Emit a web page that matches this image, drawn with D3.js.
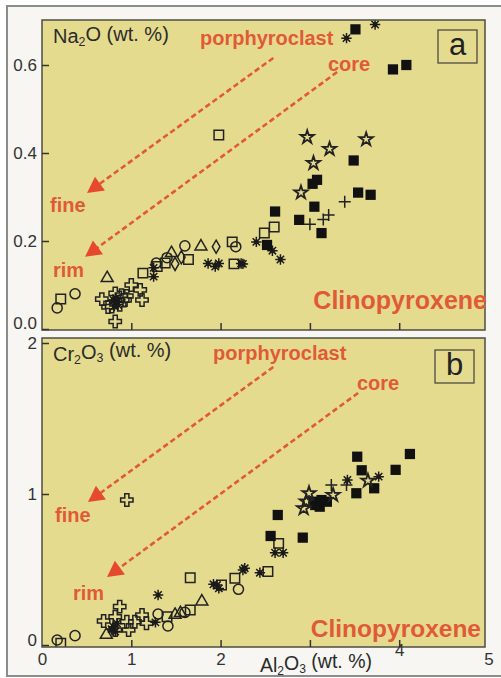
<!DOCTYPE html>
<html><head><meta charset="utf-8">
<script src="https://cdn.jsdelivr.net/npm/d3@7"></script>
<style>
html,body{margin:0;padding:0;background:#fff;}
svg{display:block;font-family:"Liberation Sans",Arial,sans-serif;}
</style></head><body>
<svg id="fig" width="501" height="678"></svg>
<script>
// ---- Clinopyroxene analyses: [Al2O3, oxide] in wt.% ----
// Panel a: Na2O vs Al2O3
const naCircle   = [[0.17,0.048],[0.37,0.080],[1.28,0.150],[1.40,0.162],[1.60,0.189],[2.17,0.187]];
const naSquare   = [[0.21,0.068],[1.13,0.127],[1.29,0.142],[1.38,0.150],[1.64,0.158],[2.13,0.198],[2.15,0.148],[2.49,0.218],[2.60,0.232],[1.98,0.441]];
const naTriangle = [[0.73,0.119],[1.45,0.176],[1.78,0.191]];
const naDiamond  = [[1.49,0.148],[1.56,0.163],[1.95,0.187]];
const naCross    = [[0.67,0.068],[0.82,0.081],[0.78,0.051],[0.87,0.055],[0.95,0.075],[1.00,0.100],[1.10,0.089],[1.12,0.066],[0.82,0.017],[0.93,0.066],[0.74,0.050],[0.89,0.077]];
const naAsterisk = [[0.80,0.066],[0.84,0.061],[0.85,0.055],[0.81,0.052],[0.83,0.070],[1.25,0.119],[1.25,0.139],[1.86,0.149],[1.94,0.142],[1.98,0.149],[2.23,0.149],[2.25,0.148],[2.40,0.198],[2.58,0.178],[2.67,0.158],[3.41,0.661],[3.73,0.692]];
const naFilled   = [[2.52,0.191],[2.61,0.267],[2.88,0.248],[3.05,0.278],[3.08,0.339],[3.03,0.330],[3.13,0.218],[3.49,0.383],[3.54,0.310],[3.68,0.305],[3.51,0.681],[3.93,0.590],[4.08,0.600]];
const naStar     = [[2.97,0.436],[3.22,0.409],[3.63,0.431],[3.04,0.377],[2.90,0.310]];
const naPlus     = [[3.39,0.289],[3.00,0.238],[3.15,0.249],[3.21,0.259]];

// Panel b: Cr2O3 vs Al2O3
const crCircle   = [[0.17,0.033],[0.37,0.062],[1.30,0.205],[1.41,0.126],[1.60,0.216],[2.20,0.369]];
const crSquare   = [[0.21,0.011],[1.66,0.446],[1.40,0.187],[1.66,0.232],[2.01,0.397],[2.16,0.442],[2.53,0.486],[2.65,0.673]];
const crTriangle = [[0.72,0.077],[1.79,0.298],[1.49,0.210],[1.55,0.221]];
const crCross    = [[0.95,0.960],[0.87,0.254],[0.82,0.187],[0.69,0.159],[0.95,0.154],[0.97,0.099],[1.04,0.154],[1.12,0.199],[1.17,0.144],[0.82,0.099]];
const crAsterisk = [[0.80,0.121],[0.84,0.143],[0.82,0.089],[0.78,0.105],[1.27,0.150],[1.30,0.331],[1.92,0.402],[1.96,0.397],[1.98,0.375],[2.25,0.497],[2.27,0.508],[2.44,0.479],[2.61,0.611],[2.70,0.611],[3.42,1.093],[3.77,1.115]];
const crFilled   = [[2.64,0.861],[2.56,0.722],[2.92,0.711],[3.06,0.927],[3.11,0.916],[3.19,0.949],[3.04,0.949],[3.13,0.960],[3.53,1.247],[3.58,1.157],[4.12,1.265],[3.96,1.160],[3.72,1.038],[3.52,1.005]];
const crStar     = [[2.99,1.005],[2.93,0.905],[3.26,0.993],[3.65,1.088],[2.96,0.950]];
const crPlus     = [[3.24,1.060],[3.41,1.060]];

// Axis ticks
const xTicks      = [1, 2, 3, 4];
const xTickLabels = [0, 1, 2, 4, 5];
const naTicks     = [0, 0.2, 0.4, 0.6];
const crTicks     = [0, 1, 2];

// Trend arrows (from porphyroclast / core toward fine / rim), [x1,y1,x2,y2] in data units
const naArrows = [[2.59,0.616,0.504,0.309],[3.305,0.584,0.482,0.164]];
const crArrows = [[2.59,1.841,0.515,0.947],[3.54,1.669,0.728,0.450]];

// ---- layout ----
const W = 501, H = 678;
const X0 = 42, X1 = 485;
const RED = "#e05a38", INK = "#222", BG = "#e5db8f";

const x = d3.scaleLinear().domain([0, 5]).range([42, 488.5]);

const svg = d3.select("#fig");
svg.append("rect").attr("width", W).attr("height", H).attr("fill", "#fff");
svg.append("rect").attr("x", 7).attr("y", 6).attr("width", 520).attr("height", 670)
  .attr("fill", "#f7f6f2").attr("stroke", "#8c8c8c").attr("stroke-width", 2);

// marker generators
const sym = {
  circle:   d3.symbol(d3.symbolCircle, 80),
  square:   d3.symbol(d3.symbolSquare, 90),
  triangle: d3.symbol(d3.symbolTriangle, 62),
  diamond:  d3.symbol(d3.symbolDiamond, 50),
  cross:    d3.symbol(d3.symbolCross, 85),
  star:     d3.symbol(d3.symbolStar, 55),
  filled:   d3.symbol(d3.symbolSquare, 105)
};
const plusPath = "M-6,0H6M0,-6V6";
const asteriskPath = (() => {
  let p = "";
  for (let i = 0; i < 4; i++) {
    const a = i * Math.PI / 4, c = Math.cos(a) * 5.2, s = Math.sin(a) * 5.2;
    p += `M${-c},${-s}L${c},${s}`;
  }
  return p;
})();

function subText(sel, parts) {
  // parts: [text, isSub]
  parts.forEach(([t, sub]) => {
    sel.append("tspan").text(t)
      .attr("font-size", sub ? "0.62em" : null)
      .attr("dy", sub ? "0.28em" : (sel.node().childNodes.length > 1 ? "-0.28em" : null));
  });
}

function drawPanel(cfg) {
  const { top, bottom, y, yTicks, fmt, series, arrows, title, letter, box, txt } = cfg;
  const g = svg.append("g");
  g.append("rect").attr("x", X0).attr("y", top).attr("width", X1 - X0).attr("height", bottom - top)
    .attr("fill", BG);

  const clipId = "clip" + letter;
  svg.append("clipPath").attr("id", clipId).append("rect")
    .attr("x", X0).attr("y", top).attr("width", X1 - X0).attr("height", bottom - top);

  // trend arrows
  arrows.forEach(([a, b, c, d]) => {
    const x1 = x(a), y1 = y(b), x2 = x(c), y2 = y(d);
    const L = Math.hypot(x2 - x1, y2 - y1), ux = (x2 - x1) / L, uy = (y2 - y1) / L;
    const hl = 16, hw = 8.5;
    const bx = x2 - ux * hl, by = y2 - uy * hl;
    g.append("line").attr("x1", x1).attr("y1", y1).attr("x2", bx + ux * 2).attr("y2", by + uy * 2)
      .attr("stroke", RED).attr("stroke-width", 2.6).attr("stroke-dasharray", "5.5,3.2");
    g.append("path")
      .attr("d", `M${x2},${y2}L${bx - uy * hw},${by + ux * hw}L${bx + uy * hw},${by - ux * hw}Z`)
      .attr("fill", "#e64a2c");
  });

  // data markers
  const mk = g.append("g").attr("clip-path", `url(#${clipId})`);
  series.forEach(s => {
    const sel = mk.append("g").selectAll("g").data(s.data).join("g")
      .attr("transform", d => `translate(${x(d[0])},${y(d[1])})`);
    if (s.type === "plus") {
      sel.append("path").attr("d", plusPath).attr("stroke", INK).attr("stroke-width", 1.5).attr("fill", "none");
    } else if (s.type === "asterisk") {
      sel.append("path").attr("d", asteriskPath).attr("stroke", "#1a1a1a").attr("stroke-width", 1.5);
      sel.append("circle").attr("r", 2.4).attr("fill", "#1a1a1a");
    } else if (s.type === "filled") {
      sel.append("path").attr("d", sym.filled()).attr("fill", "#111");
    } else {
      sel.append("path").attr("d", sym[s.type]())
        .attr("fill", "none").attr("stroke", INK)
        .attr("stroke-width", s.type === "star" ? 1.8 : 1.5)
        .attr("transform", s.type === "triangle" ? "translate(0,1.5)" : null);
    }
  });

  // frame
  g.append("rect").attr("x", X0).attr("y", top).attr("width", X1 - X0).attr("height", bottom - top)
    .attr("fill", "none").attr("stroke", "#4d4d42").attr("stroke-width", 1.5);

  // y axis: inward ticks
  const ya = d3.axisLeft(y).tickValues(yTicks).tickSize(-7).tickPadding(5).tickFormat(fmt);
  const yg = g.append("g").attr("transform", `translate(${X0},0)`).call(ya);
  yg.select(".domain").remove();
  yg.selectAll("line").attr("stroke", "#333").attr("stroke-width", 1.5);
  yg.selectAll("text").attr("font-size", 17).attr("fill", "#333")
    .attr("font-family", '"Liberation Sans",Arial,sans-serif')
    .attr("y", d => Math.min(0, bottom - 7 - y(d)));

  // x axis ticks (inward)
  const xa = d3.axisBottom(x).tickValues(xTicks).tickSize(-7).tickFormat("");
  const xg = g.append("g").attr("transform", `translate(0,${bottom})`).call(xa);
  xg.select(".domain").remove();
  xg.selectAll("line").attr("stroke", "#333").attr("stroke-width", 1.5);

  // oxide title
  const t = g.append("text").attr("x", X0 + 11).attr("y", top + 23).attr("font-size", 20).attr("fill", "#2b2b2b");
  subText(t, title);

  // panel letter box
  g.append("rect").attr("x", box[0]).attr("y", box[1]).attr("width", 39).attr("height", 33)
    .attr("fill", "none").attr("stroke", "#4d4d42").attr("stroke-width", 1.3);
  g.append("text").attr("x", box[0] + 19.5).attr("y", box[1] + 25).attr("text-anchor", "middle")
    .attr("font-size", 31).attr("fill", "#222").text(letter);

  // red annotations
  txt.forEach(([s, px, py, fs, anchor]) => {
    g.append("text").attr("x", px).attr("y", py).attr("font-size", fs).attr("font-weight", "bold")
      .attr("fill", RED).attr("text-anchor", anchor || "start").text(s);
  });
}

const yA = d3.scaleLinear().domain([0, 0.7]).range([329, 21]);
const yB = d3.scaleLinear().domain([0, 2]).range([645, 343]);

drawPanel({
  top: 20, bottom: 330, y: yA, yTicks: naTicks, fmt: d3.format(".1f"), letter: "a",
  box: [438, 30],
  title: [["Na", false], ["2", true], ["O (wt. %)", false]],
  arrows: naArrows,
  series: [
    { type: "circle", data: naCircle }, { type: "square", data: naSquare },
    { type: "triangle", data: naTriangle }, { type: "diamond", data: naDiamond },
    { type: "cross", data: naCross }, { type: "asterisk", data: naAsterisk },
    { type: "filled", data: naFilled }, { type: "star", data: naStar }, { type: "plus", data: naPlus }
  ],
  txt: [["porphyroclast", 200, 45, 20], ["core", 328, 71, 20], ["fine", 50, 212, 20],
        ["rim", 53, 277, 20], ["Clinopyroxene", 487, 309, 25, "end"]]
});

drawPanel({
  top: 338, bottom: 647, y: yB, yTicks: crTicks, fmt: d3.format("d"), letter: "b",
  box: [435, 350],
  title: [["Cr", false], ["2", true], ["O", false], ["3", true], [" (wt. %)", false]],
  arrows: crArrows,
  series: [
    { type: "circle", data: crCircle }, { type: "square", data: crSquare },
    { type: "triangle", data: crTriangle },
    { type: "cross", data: crCross }, { type: "asterisk", data: crAsterisk },
    { type: "filled", data: crFilled }, { type: "star", data: crStar }, { type: "plus", data: crPlus }
  ],
  txt: [["porphyroclast", 213, 360, 20], ["core", 357, 390, 20], ["fine", 55, 522, 20],
        ["rim", 73, 600, 20], ["Clinopyroxene", 481, 637, 24.5, "end"]]
});

// shared x-axis labels under panel b
const lab = svg.append("g").attr("transform", "translate(0,647)")
  .call(d3.axisBottom(x).tickValues(xTickLabels).tickSize(0).tickPadding(6).tickFormat(d3.format("d")));
lab.select(".domain").remove();
lab.selectAll("text").attr("font-size", 17).attr("fill", "#333")
  .attr("font-family", '"Liberation Sans",Arial,sans-serif')
  .attr("dy", d => d === 4 ? "0.2em" : "0.71em");

const xt = svg.append("text").attr("x", 260).attr("y", 672).attr("font-size", 19.5).attr("fill", "#2b2b2b");
subText(xt, [["Al", false], ["2", true], ["O", false], ["3", true], [" (wt. %)", false]]);
</script>
</body></html>
